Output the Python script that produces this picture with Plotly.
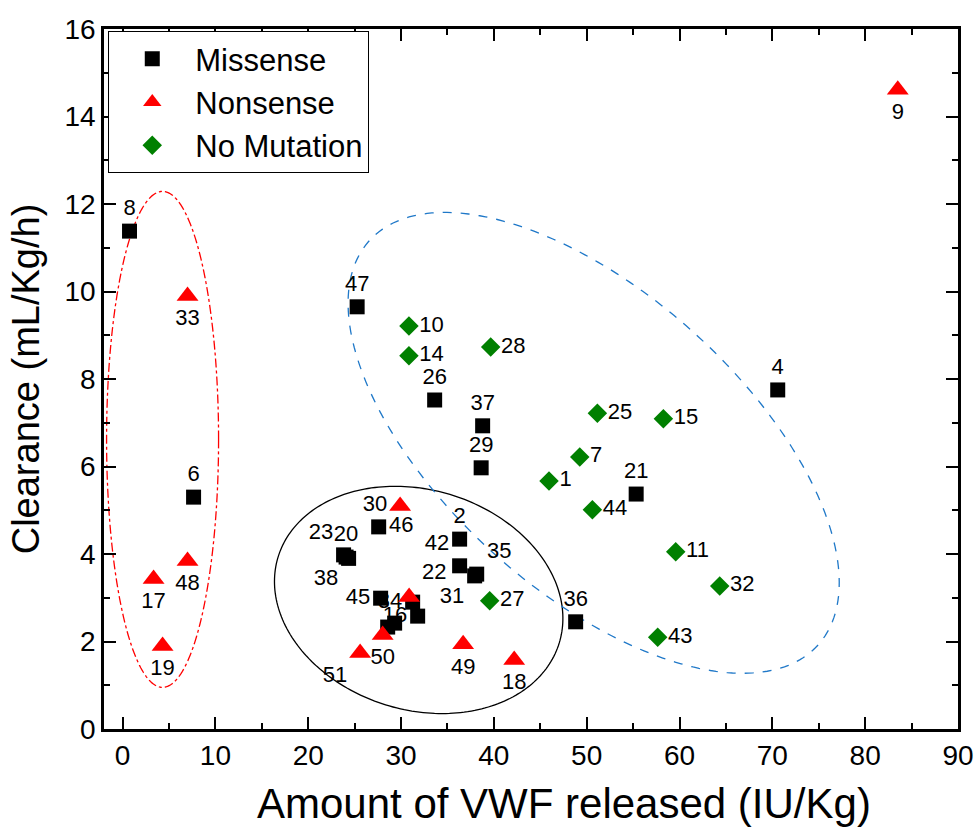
import numpy as np
import plotly.graph_objects as go

# ---- data -----------------------------------------------------------------
missense_id = ["8", "47", "6", "26", "37", "29", "4", "21", "36", "46", "23", "20", "38",
               "2", "42", "35", "31", "45", "34", "16", "", ""]
missense_x = [0.75, 25.27, 7.65, 33.62, 38.79, 38.63, 70.58, 55.33, 48.81, 27.59, 23.81, 24.08, 24.35,
              36.31, 36.31, 38.15, 37.93, 27.80, 31.25, 31.79, 28.56, 29.31]
missense_y = [11.38, 9.65, 5.30, 7.52, 6.93, 5.97, 7.75, 5.37, 2.45, 4.62, 3.98, 3.93, 3.90,
              4.34, 3.73, 3.54, 3.50, 2.99, 2.90, 2.58, 2.33, 2.42]

nonsense_id = ["9", "33", "48", "17", "19", "30", "22", "50", "51", "49", "18"]
nonsense_x = [83.51, 7.00, 7.00, 3.34, 4.31, 29.90, 30.87, 28.02, 25.59, 36.69, 42.19]
nonsense_y = [14.61, 9.90, 3.84, 3.43, 1.90, 5.10, 3.02, 2.15, 1.74, 1.94, 1.58]

nomut_id = ["10", "14", "28", "25", "15", "7", "1", "44", "11", "32", "43", "27"]
nomut_x = [30.85, 30.85, 39.66, 51.15, 58.26, 49.25, 45.94, 50.61, 59.59, 64.33, 57.65, 39.55]
nomut_y = [9.21, 8.53, 8.73, 7.22, 7.09, 6.22, 5.67, 5.01, 4.05, 3.27, 2.10, 2.93]

x_range = [-2, 90]
y_range = [0, 16]

# ---- label placement --------------------------------------------------------
label_pos = {
    "m": {"46": "middle right", "23": "top left", "38": "bottom left", "42": "top left",
          "35": "top right", "31": "bottom left", "45": "middle left", "34": "middle left",
          "16": "middle left"},
    "n": {"30": "middle left", "22": "top right", "51": "bottom left"},
}

def positions(ids, key, default):
    table = label_pos.get(key, {})
    return [table.get(i, default) for i in ids]

# ---- geometry ---------------------------------------------------------------
W, H = 976, 830
ML, MR, MT, MB = 104, 18, 29, 101
ppx = (W - ML - MR) / (x_range[1] - x_range[0])
ppy = (H - MT - MB) / (y_range[1] - y_range[0])


def ellipse_path(cx, cy, a_px, b_px, deg, n=240):
    """Closed ellipse outline in data units; semi-axes given in screen pixels."""
    t = np.linspace(0, 2 * np.pi, n)
    th = np.radians(deg)
    dx = a_px * np.cos(t) * np.cos(th) - b_px * np.sin(t) * np.sin(th)
    dy = a_px * np.cos(t) * np.sin(th) + b_px * np.sin(t) * np.cos(th)
    xs = cx + dx / ppx
    ys = cy - dy / ppy
    pts = [f"{x:.4f},{y:.4f}" for x, y in zip(xs, ys)]
    return "M " + " L ".join(pts) + " Z"


FONT = "Liberation Sans, Arial, sans-serif"
SQ, TRI, DIA = 15, 19, 15

fig = go.Figure()

groups = [
    ("Missense", "m", missense_id, missense_x, missense_y, "square", SQ, "black", "top center"),
    ("Nonsense", "n", nonsense_id, nonsense_x, nonsense_y, "triangle-up", TRI, "red", "bottom center"),
    ("No Mutation", "g", nomut_id, nomut_x, nomut_y, "diamond", DIA, "green", "middle right"),
]

# labels first so markers sit on top of them
for name, key, ids, xs, ys, sym, size, col, dpos in groups:
    fig.add_trace(go.Scatter(
        x=xs, y=ys, mode="markers+text", text=ids,
        textposition=positions(ids, key, dpos),
        textfont=dict(family=FONT, size=22, color="black"),
        marker=dict(symbol=sym, size=size, color="rgba(0,0,0,0)"),
        showlegend=False, hoverinfo="skip", cliponaxis=False,
    ))

for name, key, ids, xs, ys, sym, size, col, dpos in groups:
    fig.add_trace(go.Scatter(
        x=xs, y=ys, mode="markers", name=name,
        marker=dict(symbol=sym, size=size, color=col, line=dict(width=0)),
        cliponaxis=False,
    ))

fig.add_shape(type="path", path=ellipse_path(4.31, 6.62, 56, 248, 0),
              line=dict(color="red", width=1.3, dash="dashdot"), layer="below")
fig.add_shape(type="path", path=ellipse_path(31.9, 2.95, 147, 110, 17),
              line=dict(color="black", width=1.3), layer="below")
fig.add_shape(type="path", path=ellipse_path(50.75, 6.54, 302, 149, 42),
              line=dict(color="#1f78c8", width=1.3, dash="dash"), layer="below")

axis_common = dict(
    showline=True, linecolor="black", linewidth=2.5, mirror="ticks",
    ticks="inside", ticklen=12, tickwidth=2, tickcolor="black",
    showgrid=False, zeroline=False,
    tickfont=dict(family=FONT, size=28, color="black"),
)

fig.update_xaxes(range=x_range, dtick=10, tick0=0,
                 minor=dict(ticks="inside", ticklen=6, tickwidth=2, dtick=5, tick0=0, tickcolor="black"),
                 **axis_common)
fig.update_yaxes(range=y_range, dtick=2, tick0=0,
                 minor=dict(ticks="inside", ticklen=6, tickwidth=2, dtick=1, tick0=0, tickcolor="black"),
                 title=dict(text="Clearance (mL/Kg/h)",
                            font=dict(family=FONT, size=38, color="black"), standoff=14),
                 **axis_common)

# x-axis title, set slightly right of the plot centre
fig.add_annotation(text="Amount of VWF released (IU/Kg)", xref="paper", yref="paper",
                   x=0.539, y=-0.106, xanchor="center", yanchor="middle", showarrow=False,
                   font=dict(family=FONT, size=42, color="black"))

fig.update_layout(
    width=W, height=H,
    margin=dict(l=ML, r=MR, t=MT, b=MB, autoexpand=False),
    paper_bgcolor="white", plot_bgcolor="white",
    font=dict(family=FONT, color="black"),
    legend=dict(x=0.005, y=0.997, xanchor="left", yanchor="top",
                bordercolor="black", borderwidth=1, bgcolor="white",
                font=dict(family=FONT, size=31, color="black"),
                itemwidth=76, tracegroupgap=0),
)

fig.write_html("out.html")
